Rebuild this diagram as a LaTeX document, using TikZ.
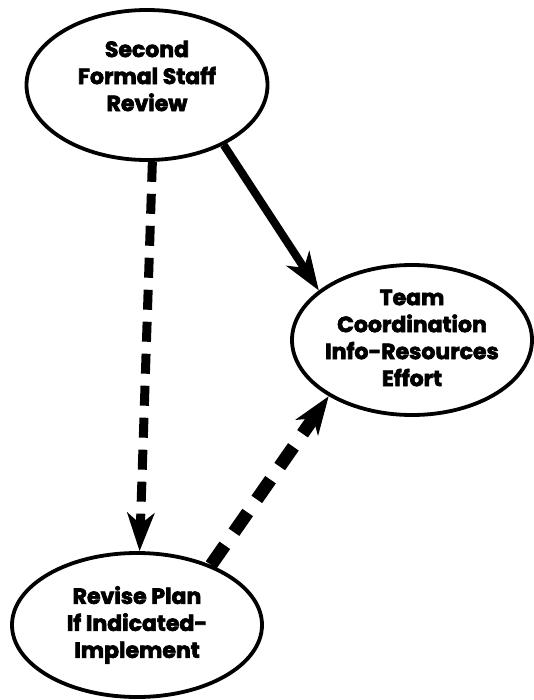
\documentclass[tikz,border=0pt]{standalone}
\usepackage{fontspec}
\setmainfont{Poppins}[BoldFont={* Bold}, BoldFeatures={FakeBold=3}]
\usetikzlibrary{shapes.geometric,arrows.meta}

\tikzset{
  bubble/.style={ellipse, draw, line width=3.8pt, inner sep=0pt},
  caption/.style={align=center, font=\bfseries\fontsize{22pt}{27pt}\selectfont, inner sep=0pt},
  bigtip/.style={-{Stealth[length=38pt,width=27pt,inset=11pt]}},
  flow/.style={line width=8pt, bigtip},
  maybe/.style={line width=9pt, dash pattern=on 20pt off 12pt, bigtip},
  feedback/.style={line width=13pt, dash pattern=on 24pt off 16pt, bigtip}
}

\begin{document}
\begin{tikzpicture}[x=1pt, y=-1pt]
  \useasboundingbox (0,0) rectangle (534,700);

  % the three stages
  \node[bubble, minimum width=241pt, minimum height=150pt] (review) at (147,85) {};
  \node[bubble, minimum width=240pt, minimum height=150pt] (team) at (412,340) {};
  \node[bubble, minimum width=250pt, minimum height=144pt] (revise) at (137,625) {};

  \node[caption] (reviewtxt) at ([yshift=9pt]review.center) {Second\\Formal Staff\\Review};
  \node[caption] (teamtxt) at ([yshift=2pt]team.center) {Team\\Coordination\\Info-Resources\\Effort};
  \node[caption] (revisetxt) at (revise) {Revise Plan\\If Indicated-\\Implement};

  % connections between the stages
  \draw[flow] (review.-38) -- (team.152);
  \draw[maybe] (review.-86) -- (revise.88);
  \draw[feedback] (revise.39) -- (team.214);
\end{tikzpicture}
\end{document}
